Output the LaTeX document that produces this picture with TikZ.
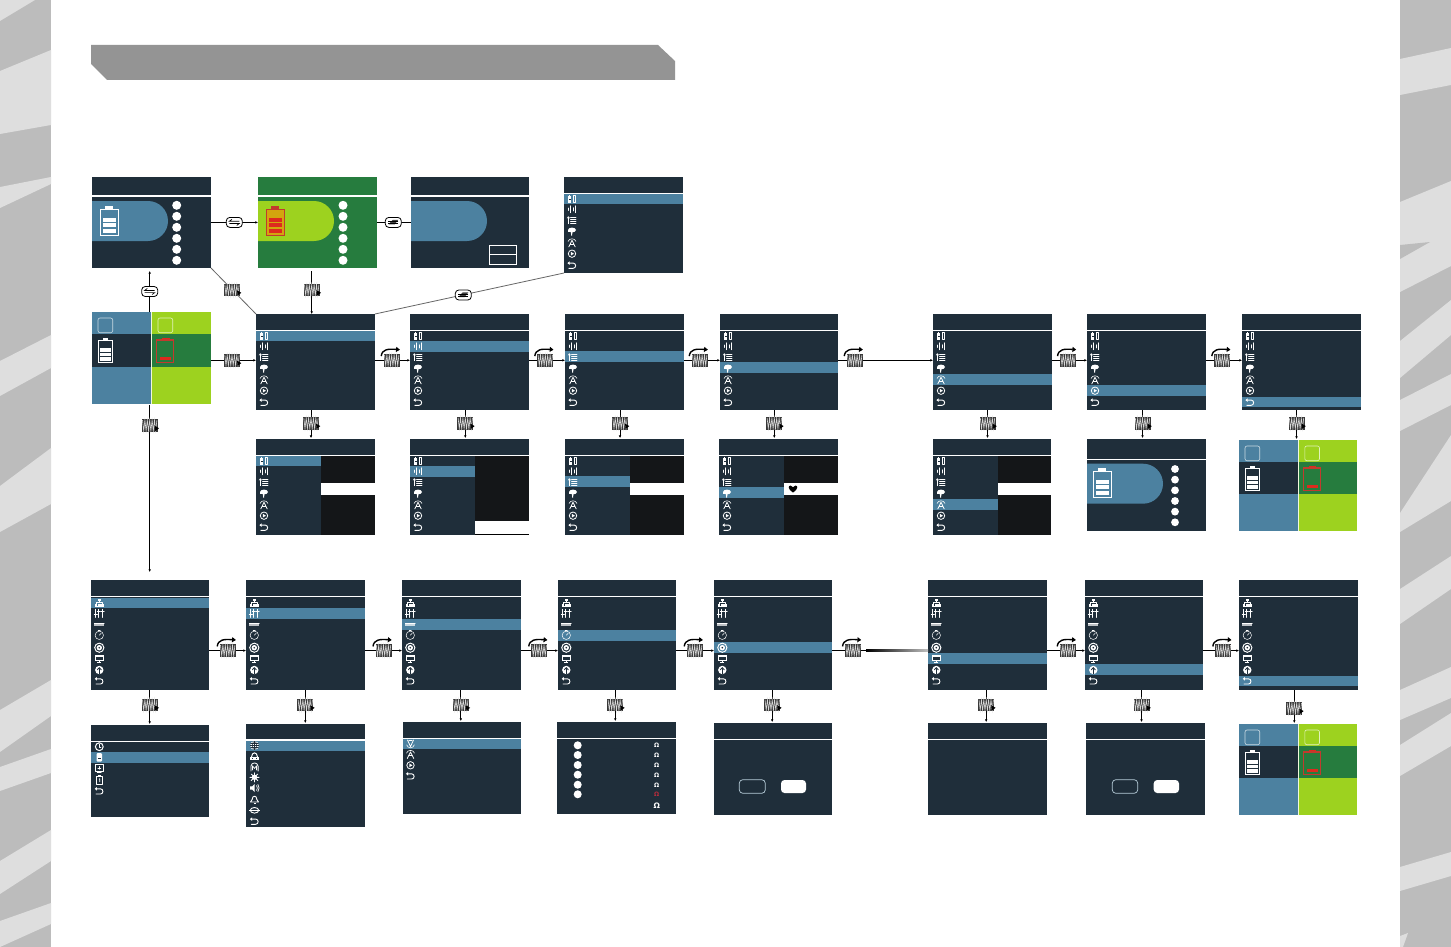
\documentclass[tikz,border=0pt]{standalone}
\usepackage{fontspec}
\setmainfont{DejaVu Sans}
\usetikzlibrary{arrows.meta,calc}
\definecolor{navy}{HTML}{1F2E3A}
\definecolor{hblue}{HTML}{4C81A0}
\definecolor{dgreen}{HTML}{267C3E}
\definecolor{lime}{HTML}{9DD21F}
\definecolor{panel}{HTML}{141618}
\definecolor{bandA}{HTML}{BCBCBC}
\definecolor{bandB}{HTML}{DEDEDE}
\definecolor{titlegrey}{HTML}{949494}
\definecolor{battred}{HTML}{DD2A1E}
\definecolor{battedge}{HTML}{C23A2E}
\definecolor{omegared}{HTML}{B82C3C}
\tikzset{
  scrbox/.style={rectangle,inner sep=0pt,outer sep=0pt,draw=none},
  conn/.style={draw=black,line width=.8pt,-{Latex[length=2.6pt,width=2.6pt]}},
  connplain/.style={draw=black,line width=.8pt},
  conngrey/.style={draw=black!60,line width=.8pt},
  btnbox/.style={rectangle,inner sep=0pt,outer sep=0pt,minimum width=16pt,minimum height=12.5pt,fill=black!78},
  swbox/.style={rectangle,rounded corners=3.5pt,inner sep=0pt,outer sep=0pt,minimum width=16pt,minimum height=10pt,fill=white,draw=black,line width=.8pt},
  omeganode/.style={inner sep=0pt,outer sep=0pt,text=white,font=\bfseries\fontsize{6}{6}\selectfont},
  iconstyle/.style={white,line width=.8pt,line cap=round,line join=round}
}
% ---------- generic screen
\newcommand\scr[6]{\node[scrbox,fill=#6,minimum width={(#4-#2)*1pt},minimum height={(#5-#3)*1pt}] (#1) at ({(#2+#4)/2},{(#3+#5)/2}) {};}
\newcommand\wline[3]{\fill[white] (#1,#3-.6) rectangle (#2,#3+.6);}
\newcommand\ic[3]{\begin{scope}[shift={(#1,#2)},iconstyle]#3\end{scope}}
% ---------- icons
\newcommand\icBat{\fill (-3.8,-3.2) rectangle (-.8,4);\fill (-3,-4.2) rectangle (-1.6,-3.2);\draw[line width=.7pt] (.9,-3.2) rectangle (3.6,4);\fill (1.6,-4.2) rectangle (2.9,-3.2);\fill[navy] (-3.2,.2) rectangle (-1.4,.7);}
\newcommand\icBars{\draw (-3.7,-1.2)--(-3.7,1.2);\draw[line width=1pt] (-1.3,-3.4)--(-1.3,3.4);\draw (1.2,-1.6)--(1.2,1.6);\draw[line width=1pt] (3.6,-3.4)--(3.6,3.4);}
\newcommand\icList{\draw (-3.6,3.6)--(-3.6,-2.6);\draw[line width=.6pt] (-4.8,-1.8)--(-3.6,-3.4)--(-2.4,-1.8);\draw[line width=.9pt] (-1.4,-2.8)--(4,-2.8) (-1.4,-.6)--(4,-.6) (-1.4,1.6)--(4,1.6) (-1.4,3.6)--(4,3.6);}
\newcommand\icFlag{\fill (0,-1.3) ellipse[x radius=4pt,y radius=2.4pt];\fill (-3.6,-1.5) rectangle (1,1);\fill (-1.2,0) -- (.6,0) -- (0,4.2) -- (-.8,4.2) -- cycle;}
\newcommand\icPers{\draw[line width=.6pt] (-4,-1.2) .. controls (-3,-4.8) and (3,-4.8) .. (4,-1.2);\draw (-3.2,4.2)--(0,-2.4)--(3.2,4.2);\draw[line width=.7pt] (-1.6,1.2)--(1.6,1.2);}
\newcommand\icPlay{\draw (0,0) circle[radius=3.7pt];\fill (-1.2,-1.9)--(2,0)--(-1.2,1.9)--cycle;}
\newcommand\icRet{\draw[line width=.9pt] (-3,-2.2)--(1.2,-2.2) .. controls (4.4,-2.2) and (4.4,3) .. (1.2,3) -- (-3.2,3);\fill (-4.6,-2.2)--(-2.4,-4)--(-2.4,-.4)--cycle;}
\newcommand\icNet{\draw[line width=.6pt] (0,-1.6)--(0,0) (-3.2,1)--(-3.2,0)--(3.2,0)--(3.2,1);\fill (-1.3,-4.2) rectangle (1.3,-1.8);\fill (-4.6,1) rectangle (-2,3.6);\fill (-1.3,1) rectangle (1.3,3.6);\fill (2,1) rectangle (4.6,3.6);\fill (-4.8,3.6) rectangle (4.8,4.2);}
\newcommand\icSlid{\draw[line width=1pt] (-3.4,-4)--(-3.4,4) (-.4,-4)--(-.4,4) (3.4,-4)--(3.4,4);\draw[line width=1.1pt] (-4.8,.8)--(-2,.8) (-1.8,-1.6)--(1,-1.6) (2,-2.2)--(4.8,-2.2);}
\newcommand\icBar{\fill[white,opacity=.7] (-5,-1.6) rectangle (5,1.6);\draw[line width=.4pt] (-5,-1.6)--(5,-1.6);}
\newcommand\icClock{\draw[line width=.5pt] (0,0) circle[radius=4.2pt];\draw[line width=.5pt] (0,0)--(1.8,-2);\draw[line width=.7pt] (-1,-5.1)--(1,-5.1);}
\newcommand\icEye{\draw[line width=1pt,dash pattern=on 2pt off .5pt] (0,0) circle[radius=4.6pt];\fill (0,0) circle[radius=2.7pt];\fill[navy] (0,0) circle[radius=.9pt];}
\newcommand\icMon{\fill (-4.6,-3.6) rectangle (4.6,2.4);\fill[navy] (-3.6,-1.8) rectangle (3.6,1.4);\fill (-2,3.2) rectangle (2,4);\fill (-.8,2.2) rectangle (.8,3.4);}
\newcommand\icTree{\fill (0,0) circle[radius=4.2pt];\draw[navy,line width=1pt] (0,3.6)--(0,-1.5);\draw[navy,line width=.8pt] (-2,-.2)--(0,-2.4)--(2,-.2);}
\newcommand\icClockB{\draw[line width=1pt] (0,0) circle[radius=3.9pt];\draw[line width=.7pt] (0,-2.4)--(0,.4)--(1.6,.4);}
\newcommand\icDoc{\fill[rounded corners=1pt] (-2.8,-4.2) rectangle (2.8,4.2);\fill[navy] (-1.8,.4) rectangle (1.8,1);}
\newcommand\icSq{\draw[line width=.9pt] (-4.2,-3.6) rectangle (4.2,3);\draw[line width=.7pt] (-1.4,-.4)--(1.4,-.4) (0,-1.8)--(0,1);\draw[line width=.7pt] (-2,4.2)--(2,4.2);}
\newcommand\icClip{\draw[line width=1pt] (-3,-3.2) rectangle (3,4.2);\fill (-1.4,-4.6) rectangle (1.4,-3);\draw[line width=.6pt] (-.3,-.9)--(.4,-1.4)--(.4,1.8);}
\newcommand\icGlobe{\fill (0,0) circle[radius=4.4pt];\draw[navy,line width=.5pt] (-4.2,0)--(4.2,0) (0,-4.2)--(0,4.2) (-3.8,-2)--(3.8,-2) (-3.8,2)--(3.8,2);\draw[navy,line width=.5pt] (0,0) ellipse[x radius=2.2pt,y radius=4.2pt];}
\newcommand\icCar{\draw[line width=1pt] (-3,.6) .. controls (-2.6,-4.8) and (2.6,-4.8) .. (3,.6);\fill (-4.6,.6) rectangle (4.6,3.4);\fill[navy] (-2.6,1.3) rectangle (-1.2,2.4);\fill[navy] (1.2,1.3) rectangle (2.6,2.4);}
\newcommand\icM{\draw (-3.6,4) -- (-3.6,-.8) .. controls (-3,-5.2) and (3,-5.2) .. (3.6,-.8) -- (3.6,4);\draw[line width=.7pt] (-2,3)--(-2,-1.2)--(0,1.4)--(2,-1.2)--(2,3);}
\newcommand\icSun{\fill (0,0) circle[radius=2.7pt];\draw[line width=.9pt] (-4.6,0)--(4.6,0) (0,-4.6)--(0,4.6) (-3.2,-3.2)--(3.2,3.2) (-3.2,3.2)--(3.2,-3.2);}
\newcommand\icSpk{\fill (-4.4,-1.6)--(-2.4,-1.6)--(.2,-4)--(.2,4)--(-2.4,1.6)--(-4.4,1.6)--cycle;\draw[line width=.7pt] (2,-2.4) .. controls (3.2,-1) and (3.2,1) .. (2,2.4);\draw[line width=.7pt] (3.4,-3.6) .. controls (5,-1) and (5,1) .. (3.4,3.6);}
\newcommand\icBell{\draw[line width=.9pt] (-4,3)--(-2.4,.6) .. controls (-2.2,-4) and (2.2,-4) .. (2.4,.6) -- (4,3) -- cycle;\fill (-1,3.6) rectangle (1,4.4);}
\newcommand\icOval{\draw[line width=.9pt] (0,0) ellipse[x radius=4.2pt,y radius=2.8pt];\fill (-5.2,-.5) rectangle (5.2,.5);}
\newcommand\icV{\draw[line width=.6pt] (-3.8,.8) .. controls (-3,4.8) and (3,4.8) .. (3.8,.8);\draw (-3,-4)--(0,2.6)--(3,-4);\draw[line width=.7pt] (-1.6,-4)--(1.6,-4);}
% ---------- menus
\newcommand\setA[1]{\ifcase#1\or\def\hlt{17}\def\hlb{27}\or\def\hlt{27}\def\hlb{38}\or\def\hlt{37}\def\hlb{47.7}\or\def\hlt{48}\def\hlb{59}\or\def\hlt{60}\def\hlb{71}\or\def\hlt{71}\def\hlb{82}\or\def\hlt{83}\def\hlb{93}\fi}
\newcommand\setB[1]{\ifcase#1\or\def\hlt{18}\def\hlb{28}\or\def\hlt{28}\def\hlb{39}\or\def\hlt{39}\def\hlb{50}\or\def\hlt{50}\def\hlb{61}\or\def\hlt{62}\def\hlb{73}\or\def\hlt{73}\def\hlb{84}\or\def\hlt{84}\def\hlb{95}\or\def\hlt{96}\def\hlb{106}\fi}
% name,x1,x2,ytop,highlighted row,highlight right end
\newcommand\menuA[6]{\scr{#1}{#2}{#4}{#3}{#4+96}{navy}\setA{#5}%
  \fill[hblue] (#2,#4+\hlt) rectangle (#6,#4+\hlb);
  \wline{#2}{#3}{#4+16.3}
  \ic{#2+8}{#4+21.7}{\icBat}\ic{#2+8}{#4+32.3}{\icBars}\ic{#2+8}{#4+43}{\icList}\ic{#2+8}{#4+54.3}{\icFlag}\ic{#2+8}{#4+65.7}{\icPers}\ic{#2+8}{#4+76.7}{\icPlay}\ic{#2+8}{#4+88.3}{\icRet}}
\newcommand\menuB[5]{\scr{#1}{#2}{#4}{#3}{#4+110}{navy}\setB{#5}%
  \fill[hblue] (#2,#4+\hlt) rectangle (#3,#4+\hlb);
  \wline{#2}{#3}{#4+16.3}
  \ic{#2+8.3}{#4+22.7}{\icNet}\ic{#2+8.3}{#4+33.3}{\icSlid}\ic{#2+8.3}{#4+44.3}{\icBar}\ic{#2+8.3}{#4+55.3}{\icClock}\ic{#2+8.3}{#4+67.7}{\icEye}\ic{#2+8.3}{#4+78.3}{\icMon}\ic{#2+8.3}{#4+90}{\icTree}\ic{#2+8.3}{#4+101}{\icRet}}
% ---------- pill, battery
\newcommand\pill[3]{\fill[#3] (#1,#2) -- (#1+56,#2) arc[start angle=90,end angle=-90,radius=20pt] -- (#1,#2+40) -- cycle;}
% x,y,edge,inner,bars
\newcommand\bigbatt[5]{\fill[#3] (#1+5,#2-3.3) rectangle (#1+13,#2);
  \draw[draw=#3,fill=#4,line width=.9pt] (#1,#2) rectangle (#1+18.7,#2+26.4);
  \fill[#5] (#1+3.3,#2+8.4) rectangle (#1+16,#2+12.4);\fill[#5] (#1+3.3,#2+14) rectangle (#1+16,#2+18);\fill[#5] (#1+3.3,#2+19.4) rectangle (#1+16,#2+23.4);}
\newcommand\dotcol[4]{\foreach \dn in {0,...,5}{\fill[white] (#1,#2+\dn*#3) circle[radius=#4pt];}}
% name,x1,y1,x2,y2,xsplit,bandTop,bandBottom
\newcommand\splitscr[8]{\scr{#1}{#2}{#3}{#4}{#5}{hblue}
  \fill[lime] (#6,#3) rectangle (#4,#5);
  \fill[navy] (#2,#7) rectangle (#6,#8);
  \fill[dgreen] (#6,#7) rectangle (#4,#8);
  \fill[white!85!lime] (#6-.5,#3) rectangle (#6+.5,#5);
  \draw[draw=white!70!hblue,line width=.6pt,rounded corners=2pt] (#2+6,#3+6) rectangle (#2+20.7,#3+20.7);
  \draw[draw=white!70!lime,line width=.6pt,rounded corners=2pt] (#6+6.5,#3+6) rectangle (#6+21.2,#3+20.7);
  \fill[white] (#2+10.7,#3+26) rectangle (#2+16.3,#3+28);
  \draw[draw=white,line width=.9pt] (#2+6,#3+28) rectangle (#2+20.7,#3+50.7);
  \fill[white] (#2+8,#3+36) rectangle (#2+19,#3+39.7);\fill[white] (#2+8,#3+41) rectangle (#2+19,#3+44);\fill[white] (#2+8,#3+45.3) rectangle (#2+19,#3+48.7);
  \fill[battred] (#6+10.4,#3+26) rectangle (#6+18,#3+28.7);
  \draw[draw=battedge,line width=1.1pt] (#6+5,#3+28) rectangle (#6+22.4,#3+50.7);
  \fill[battred] (#6+8.7,#3+45) rectangle (#6+19.4,#3+48);}
% ---------- symbols
\newcommand\zig{\draw[white!85!black,line width=.6pt] (-7.2,-5.4)--(-6,5.4)--(-4.8,-5.4)--(-3.6,5.4)--(-2.4,-5.4)--(-1.2,5.4)--(0,-5.4)--(1.2,5.4)--(2.4,-5.4)--(3.6,5.4)--(4.8,-5.4)--(6,5.4)--(7.2,-5.4);}
\newcommand\btn[3]{\node[btnbox] (#1) at (#2,#3) {};\begin{scope}[shift={(#2,#3)}]\zig\fill[black] (5,.2)--(9.3,2.8)--(5.6,5.6)--cycle;\end{scope}}
\newcommand\rbtn[3]{\node[btnbox] (#1) at (#2,#3) {};\begin{scope}[shift={(#2,#3)}]\zig\draw[black,line width=1.4pt,-{Triangle[length=3.8pt,width=5pt]}] (-10.5,-4.2) .. controls (-9.6,-11) and (-4,-11.6) .. (8.2,-10.6);\end{scope}}
\newcommand\swt[3]{\node[swbox] (#1) at (#2,#3) {};\begin{scope}[shift={(#2,#3)}]\draw[black,line width=.7pt] (5,-1.1)--(-5,-1.1)--(-2.4,-3) (-5,1.1)--(5,1.1)--(2.4,3);\end{scope}}
\newcommand\swtB[3]{\node[swbox] (#1) at (#2,#3) {};\begin{scope}[shift={(#2,#3)}]\fill[black!75] (-4.8,2)--(-.6,-2.6)--(5,-2.6)--(1.4,2)--cycle;\draw[black,line width=.7pt] (5,-1.1)--(-5,-1.1) (-5,1.1)--(5,1.1);\end{scope}}
% horizontal link: from,to,button name,x,y
\newcommand\hlink[5]{\coordinate (#3-c) at (#4,#5);\draw[conn] (#1.east |- #3-c) -- (#2.west |- #3-c);\rbtn{#3}{#4}{#5}}
% vertical link
\newcommand\vlink[5]{\coordinate (#3-c) at (#4,#5);\draw[conn,shorten >=1pt] (#1.south -| #3-c) -- (#2.north -| #3-c);\btn{#3}{#4}{#5}}
\begin{document}
\begin{tikzpicture}[x=1pt,y=-1pt]
\useasboundingbox (0,0) rectangle (1451,947);
\fill[white] (0,0) rectangle (1451,947);
% ---------- side bands
\fill[bandA] (0,0) rectangle (51,947);
\fill[bandB] (0,0)--(35,0)--(0,21)--cycle;
\foreach \a/\b/\c/\d in {71/134/50/125,187/208/177/184,361/396/335/368,486/532/448/504,710/752/680/716,767/791/749/773,861/894/830/861,921/947/903/924}{\fill[bandB] (0,\a)--(51,\c)--(51,\d)--(0,\b)--cycle;}
\fill[bandA] (1400,0) rectangle (1451,947);
\foreach \a/\b/\c/\d in {59/95/48/85,202/292/181/266,341/378/300/335,400/431/374/405,513/532/435/501,589/624/556/589,690/720/667/698,745/776/713/746,867/891/852/876}{\fill[bandB] (1400,\a)--(1451,\c)--(1451,\d)--(1400,\b)--cycle;}
\fill[bandA] (1400,245)--(1430,242)--(1400,259)--cycle;
\fill[bandB] (1400,936)--(1408,933)--(1403,947)--(1400,947)--cycle;
% ---------- title bar
\fill[titlegrey] (91,45)--(658,45)--(675,61)--(675,80)--(107,80)--(91,64)--cycle;
% ---------- top row
\scr{S1}{92}{177}{211}{268}{navy}
\wline{92}{211}{196}
\pill{92}{201}{hblue}
\bigbatt{100}{209.3}{white}{hblue}{white}
\dotcol{176.7}{205.3}{11}{4.5}
\scr{S2}{258}{177}{377}{268}{dgreen}
\wline{258}{377}{196}
\pill{258}{201}{lime}
\bigbatt{266}{209.3}{battedge}{orange!55!lime}{battred}
\dotcol{343}{205.3}{11}{4.5}
\scr{S3}{411}{177}{529}{268}{navy}
\wline{411}{529}{196}
\pill{411}{201}{hblue}
\draw[white,line width=.8pt] (489.3,245.3) rectangle (516.7,264.7) (489.3,254.7)--(516.7,254.7);
\menuA{S4}{564}{683}{177}{1}{683}
% ---------- second row
\splitscr{A}{92}{312}{211}{404}{151.5}{333.7}{367}
\menuA{M1}{256}{375}{314}{1}{375}
\menuA{M2}{410}{529}{314}{2}{529}
\menuA{M3}{565}{684}{314}{3}{684}
\menuA{M4}{720}{838}{314}{4}{838}
\menuA{M5}{933}{1052}{314}{5}{1052}
\menuA{M6}{1087}{1206}{314}{6}{1206}
\menuA{M7}{1242}{1361}{314}{7}{1361}
% ---------- third row
\menuA{P1}{256}{375}{439}{1}{321}
\fill[panel] (321,456) rectangle (375,483);\fill[white] (321,483) rectangle (375,495);\fill[panel] (321,495) rectangle (375,535);
\menuA{P2}{410}{529}{439}{2}{475}
\fill[panel] (475,456) rectangle (529,521);\fill[white] (475,521) rectangle (529,534);\fill[black] (475,534) rectangle (529,535);
\menuA{P3}{565}{684}{439}{3}{630}
\fill[panel] (630,456) rectangle (684,483);\fill[white] (630,483) rectangle (684,495);\fill[panel] (630,495) rectangle (684,535);
\menuA{P4}{719}{838}{439}{4}{784}
\fill[panel] (784,456) rectangle (838,483);\fill[white] (784,483) rectangle (838,495);\fill[panel] (784,495) rectangle (838,535);
\begin{scope}[shift={(793,489)}]\fill[black] (0,3.6) .. controls (-5.6,0) and (-5,-3.6) .. (-2.4,-3.4) .. controls (-1.2,-3.4) and (-.3,-2.6) .. (0,-1.8) .. controls (.3,-2.6) and (1.2,-3.4) .. (2.4,-3.4) .. controls (5,-3.6) and (5.6,0) .. (0,3.6) -- cycle;\end{scope}
\menuA{P5}{933}{1051}{439}{5}{998}
\fill[panel] (998,456) rectangle (1051,483);\fill[white] (998,483) rectangle (1051,495);\fill[panel] (998,495) rectangle (1051,535);
\scr{P6}{1087}{439}{1206}{531}{navy}
\wline{1087}{1206}{459.3}
\pill{1087}{463.7}{hblue}
\bigbatt{1093}{471.3}{white}{hblue}{white}
\dotcol{1175}{469}{10.66}{3.9}
\splitscr{P7}{1239}{440}{1357}{531}{1298.3}{462}{494}
% ---------- settings row
\menuB{T1}{91}{209}{580}{1}
\menuB{T2}{246}{365}{580}{2}
\menuB{T3}{402}{521}{580}{3}
\menuB{T4}{558}{676}{580}{4}
\menuB{T5}{714}{832}{580}{5}
\menuB{T6}{928}{1047}{580}{6}
\menuB{T7}{1085}{1203}{580}{7}
\menuB{T8}{1239}{1358}{580}{8}
% ---------- bottom row
\scr{U1}{91}{725}{209}{817}{navy}
\fill[hblue] (91,752) rectangle (209,763);
\wline{91}{209}{741.3}
\ic{99.3}{746.7}{\icClockB}\ic{99.3}{757.3}{\icDoc}\ic{99.3}{768.3}{\icSq}\ic{99.3}{780}{\icClip}\ic{99.3}{791}{\icRet}
\scr{U2}{246}{724}{365}{827}{navy}
\fill[hblue] (246,741) rectangle (365,751);
\wline{246}{365}{740}
\ic{254.5}{745.5}{\icGlobe}\ic{254.5}{756.3}{\icCar}\ic{254.5}{767}{\icM}\ic{254.5}{777.3}{\icSun}\ic{254.5}{788}{\icSpk}\ic{254.5}{799}{\icBell}\ic{254.5}{810.3}{\icOval}\ic{254.5}{821.3}{\icRet}
\scr{U3}{403}{722}{521}{814}{navy}
\fill[hblue] (403,739) rectangle (521,749);
\wline{403}{521}{738.3}
\ic{410.5}{744}{\icV}\ic{410.5}{754.3}{\icPers}\ic{410.5}{765.3}{\icPlay}\ic{410.5}{776}{\icRet}
\scr{U4}{557}{722}{676}{814}{navy}
\wline{557}{676}{738.3}
\foreach \yy in {745.3,755,765,774.7,784.7,794.3}{\fill[white] (577.7,\yy) circle[radius=4pt];}
\node[omeganode] (o1) at (656.7,745.7) {Ω};
\node[omeganode] (o2) at (656.7,755.7) {Ω};
\node[omeganode] (o3) at (656.7,765.3) {Ω};
\node[omeganode] (o4) at (656.7,775) {Ω};
\node[omeganode] (o5) at (656.7,785) {Ω};
\node[omeganode,text=omegared] (o6) at (656.7,794.7) {Ω};
\node[omeganode,font=\bfseries\fontsize{7.5}{7.5}\selectfont] (o7) at (656.7,806) {Ω};
\scr{U5}{714}{723}{832}{815}{navy}
\wline{714}{832}{739.3}
\draw[draw=white!60!hblue,line width=.7pt,rounded corners=3.5pt] (739.3,779.7) rectangle (765.3,793.3);
\fill[white,rounded corners=3.5pt] (781,780) rectangle (806,793);
\scr{U6}{928}{723}{1047}{815}{navy}
\wline{928}{1047}{739.3}
\scr{U7}{1086}{723}{1205}{815}{navy}
\wline{1086}{1205}{739.3}
\draw[draw=white!60!hblue,line width=.7pt,rounded corners=3.5pt] (1112.3,779.7) rectangle (1137.7,793.3);
\fill[white,rounded corners=3.5pt] (1153.7,780) rectangle (1179,793);
\splitscr{U8}{1239}{724}{1357}{815}{1298.3}{746}{778}
% ---------- connectors, top part
\coordinate (sw1-c) at (234.3,222.4);
\draw[conn] (S1.east |- sw1-c) -- (S2.west |- sw1-c);
\swt{sw1}{234.3}{222.4}
\coordinate (sw2-c) at (393.3,222.4);
\draw[connplain] (S2.east |- sw2-c) -- (S3.west |- sw2-c);
\swtB{sw2}{393.3}{222.4}
\coordinate (sw3-c) at (149.7,291.5);
\draw[conn,shorten >=3pt] (A.north -| sw3-c) -- (S1.south -| sw3-c);
\swt{sw3}{149.7}{291.5}
\draw[conngrey] (S4.south west) -- (M1.north east);
\swtB{sw4}{463.3}{295}
\draw[conngrey] (S1.south east) -- (M1.north west);
\btn{b1}{232}{290}
\coordinate (b2-c) at (311.7,290);
\draw[conn,shorten <=3pt] (S2.south -| b2-c) -- (M1.north -| b2-c);
\btn{b2}{311.7}{290}
\coordinate (b3-c) at (232,360.3);
\draw[conn] (A.east |- b3-c) -- (M1.west |- b3-c);
\btn{b3}{232}{360.3}
% ---------- row 2 links
\hlink{M1}{M2}{r1}{391.7}{360.3}
\hlink{M2}{M3}{r2}{545.3}{360.3}
\hlink{M3}{M4}{r3}{699.7}{360.3}
\hlink{M4}{M5}{r4}{854.7}{360.3}
\hlink{M5}{M6}{r5}{1068}{360.3}
\hlink{M6}{M7}{r6}{1222.3}{360.3}
\vlink{M1}{P1}{v1}{311}{423.3}
\vlink{M2}{P2}{v2}{465.3}{423.3}
\vlink{M3}{P3}{v3}{620}{423.3}
\vlink{M4}{P4}{v4}{774.3}{423.3}
\vlink{M5}{P5}{v5}{987.5}{423.3}
\vlink{M6}{P6}{v6}{1142.5}{423.3}
\vlink{M7}{P7}{v7}{1296.5}{423.3}
% ---------- A to settings
\coordinate (va-c) at (149.7,425.5);
\draw[conn,shorten >=8pt,shorten <=1pt] (A.south -| va-c) -- (T1.north -| va-c);
\btn{va}{149.7}{425.5}
% ---------- row 3 links
\hlink{T1}{T2}{t1}{227.7}{650.6}
\hlink{T2}{T3}{t2}{383.5}{650.6}
\hlink{T3}{T4}{t3}{539.2}{650.6}
\hlink{T4}{T5}{t4}{694.7}{650.6}
\coordinate (t5-c) at (853,650.6);
\draw[connplain] (T5.east |- t5-c) -- (T6.west |- t5-c);
\shade[left color=black,right color=black!25] (866,649.9) rectangle (928,651.3);
\rbtn{t5}{853}{650.6}
\hlink{T6}{T7}{t6}{1067.7}{650.6}
\hlink{T7}{T8}{t7}{1223.3}{650.6}
\vlink{T1}{U1}{w1}{149.7}{705}
\vlink{T2}{U2}{w2}{305.3}{705}
\vlink{T3}{U3}{w3}{460.8}{705}
\vlink{T4}{U4}{w4}{615.3}{705}
\vlink{T5}{U5}{w5}{772.2}{705}
\vlink{T6}{U6}{w6}{986.2}{705}
\vlink{T7}{U7}{w7}{1141.5}{705}
\vlink{T8}{U8}{w8}{1294.3}{708.3}
\end{tikzpicture}
\end{document}
